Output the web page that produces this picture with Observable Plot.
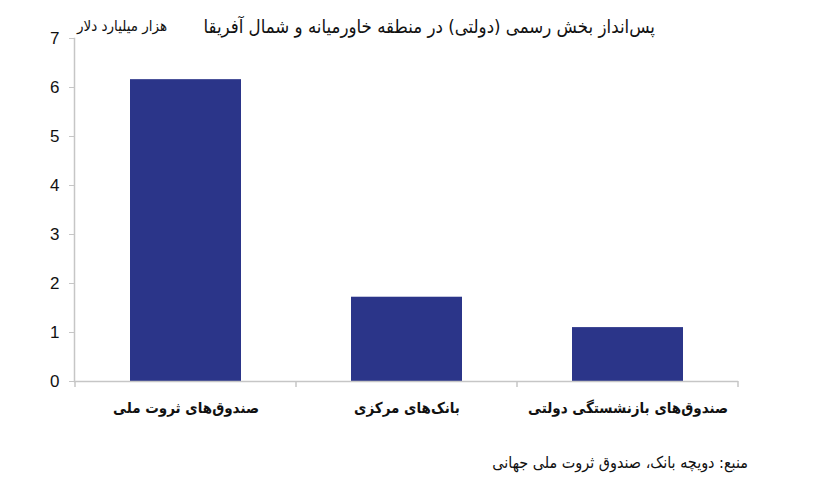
<!DOCTYPE html>
<html>
<head>
<meta charset="utf-8">
<script src="https://cdn.jsdelivr.net/npm/d3@7"></script>
<script src="https://cdn.jsdelivr.net/npm/@observablehq/plot@0.6"></script>
<style>
  body { margin: 0; background: #fff; }
  #wrap { position: relative; width: 822px; height: 497px; font-family: "DejaVu Sans Condensed", "DejaVu Sans", sans-serif; }
  .t { position: absolute; white-space: nowrap; direction: rtl; color: #111; }
</style>
</head>
<body>
<div id="wrap">
  <div class="t" id="title" style="right:167px; top:16px; font-size:18.5px;">پس‌انداز بخش رسمی (دولتی) در منطقه خاورمیانه و شمال آفریقا</div>
  <div class="t" id="unit" style="left:77px; top:17px; font-size:15px;">هزار میلیارد دلار</div>
  <div class="t" id="source" style="right:74px; top:453px; font-size:16px;">منبع: دویچه بانک، صندوق ثروت ملی جهانی</div>
</div>
<script>
const categories = ["صندوق‌های ثروت ملی", "بانک‌های مرکزی", "صندوق‌های بازنشستگی دولتی"];
const values = [6.16, 1.72, 1.10];
const yTicks = [0, 1, 2, 3, 4, 5, 6, 7];

const data = categories.map((c, i) => ({category: c, value: values[i]}));
const axisColor = "#c6c6c6";

const plot = Plot.plot({
  width: 822,
  height: 497,
  marginLeft: 74,
  marginRight: 84,
  marginTop: 38,
  marginBottom: 116,
  style: {background: "transparent", fontFamily: "DejaVu Sans Condensed, DejaVu Sans, sans-serif"},
  x: {domain: categories, paddingInner: 0.5, paddingOuter: 0.25, label: null},
  y: {domain: [0, 7], label: null},
  marks: [
    Plot.frame({anchor: "left", stroke: axisColor, strokeWidth: 1.5}),
    Plot.barY(data, {x: "category", y: "value", fill: "#2b3589"}),
    Plot.ruleY([0], {stroke: axisColor, strokeWidth: 1.5}),
    Plot.axisY({ticks: yTicks, tickSize: 5, tickPadding: 10, stroke: axisColor, fontSize: 17, fontFamily: "Liberation Sans, Arial, sans-serif", fill: "#111", tickFormat: d => String(d)}),
    Plot.axisX({tickSize: 0, tickPadding: 21, fontSize: 15, fontWeight: "bold", fill: "#111"})
  ]
});

document.getElementById("wrap").appendChild(plot);
const svg = d3.select(plot).style("position", "absolute").style("left", "0px").style("top", "0px");

// x-axis tick marks at band boundaries, derived from the x scale
const xs = plot.scale("x");
const ys = plot.scale("y");
const gap = xs.step - xs.bandwidth;
const bounds = categories.map(c => xs.apply(c) - gap / 2);
bounds.push(xs.apply(categories[categories.length - 1]) + xs.bandwidth + gap / 2);
const y0 = ys.apply(0);
svg.append("g").selectAll("line").data(bounds).join("line")
  .attr("x1", d => d).attr("x2", d => d)
  .attr("y1", y0).attr("y2", y0 + 6)
  .attr("stroke", axisColor).attr("stroke-width", 1.5);
d3.select("#wrap").selectAll(".t").raise();
</script>
</body>
</html>
